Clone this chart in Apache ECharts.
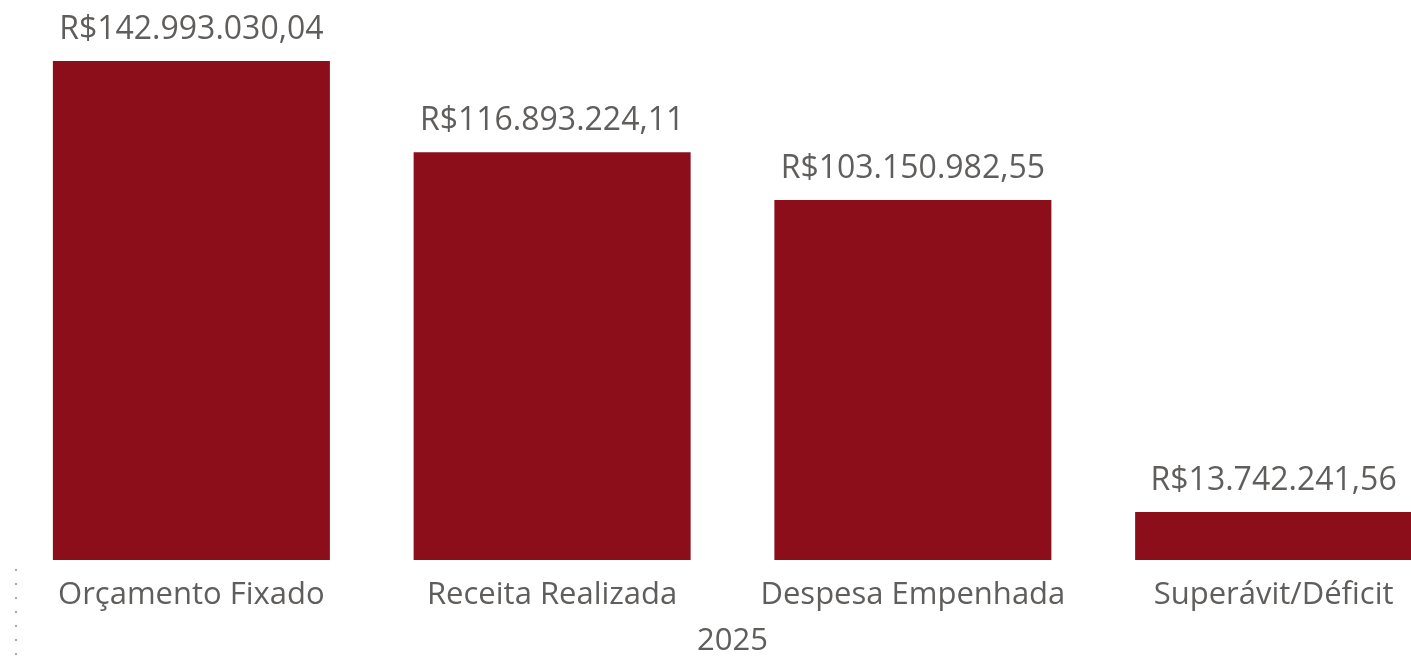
<!DOCTYPE html>
<html>
<head>
<meta charset="utf-8">
<script src="https://cdn.jsdelivr.net/npm/echarts@6/dist/echarts.min.js"></script>
<style>
html,body{margin:0;padding:0;background:#fff;}
#chart{width:1411px;height:659px;}
</style>
</head>
<body>
<div id="chart"></div>
<script>
const categories = ['Orçamento Fixado', 'Receita Realizada', 'Despesa Empenhada', 'Superávit/Déficit'];
const values = [142993030.04, 116893224.11, 103150982.55, 13742241.56];
const axisName = '2025';

function fmtBRL(v) {
  const parts = v.toFixed(2).split('.');
  const intPart = parts[0].replace(/\B(?=(\d{3})+(?!\d))/g, '.');
  return 'R$' + intPart + ',' + parts[1];
}

const chart = echarts.init(document.getElementById('chart'));
chart.setOption({
  animation: false,
  grid: { left: 11, width: 1443, top: 0, bottom: 99, containLabel: false, outerBoundsMode: 'none' },
  xAxis: {
    type: 'category',
    data: categories,
    axisLine: { show: false },
    axisTick: { show: false },
    axisLabel: { color: '#605E5C', fontFamily: 'Open Sans', fontSize: 31, margin: 20, interval: 0 },
    name: axisName,
    nameLocation: 'middle',
    nameGap: 66,
    nameTextStyle: { color: '#605E5C', fontFamily: 'Open Sans', fontSize: 31 }
  },
  yAxis: {
    type: 'value',
    min: 0,
    max: 160500000,
    show: false,
    splitLine: { show: false }
  },
  series: [{
    type: 'bar',
    data: values,
    barWidth: 277,
    itemStyle: { color: '#8B0E1A' },
    label: {
      show: true,
      position: 'top',
      distance: 15,
      color: '#605E5C',
      fontFamily: 'Open Sans',
      fontSize: 32,
      formatter: p => fmtBRL(p.value)
    }
  }],
  graphic: [{
    type: 'line',
    shape: { x1: 16, y1: 569, x2: 16, y2: 656 },
    style: { stroke: '#A8A8A8', lineWidth: 2, lineDash: [2, 12] }
  }]
});
</script>
</body>
</html>
